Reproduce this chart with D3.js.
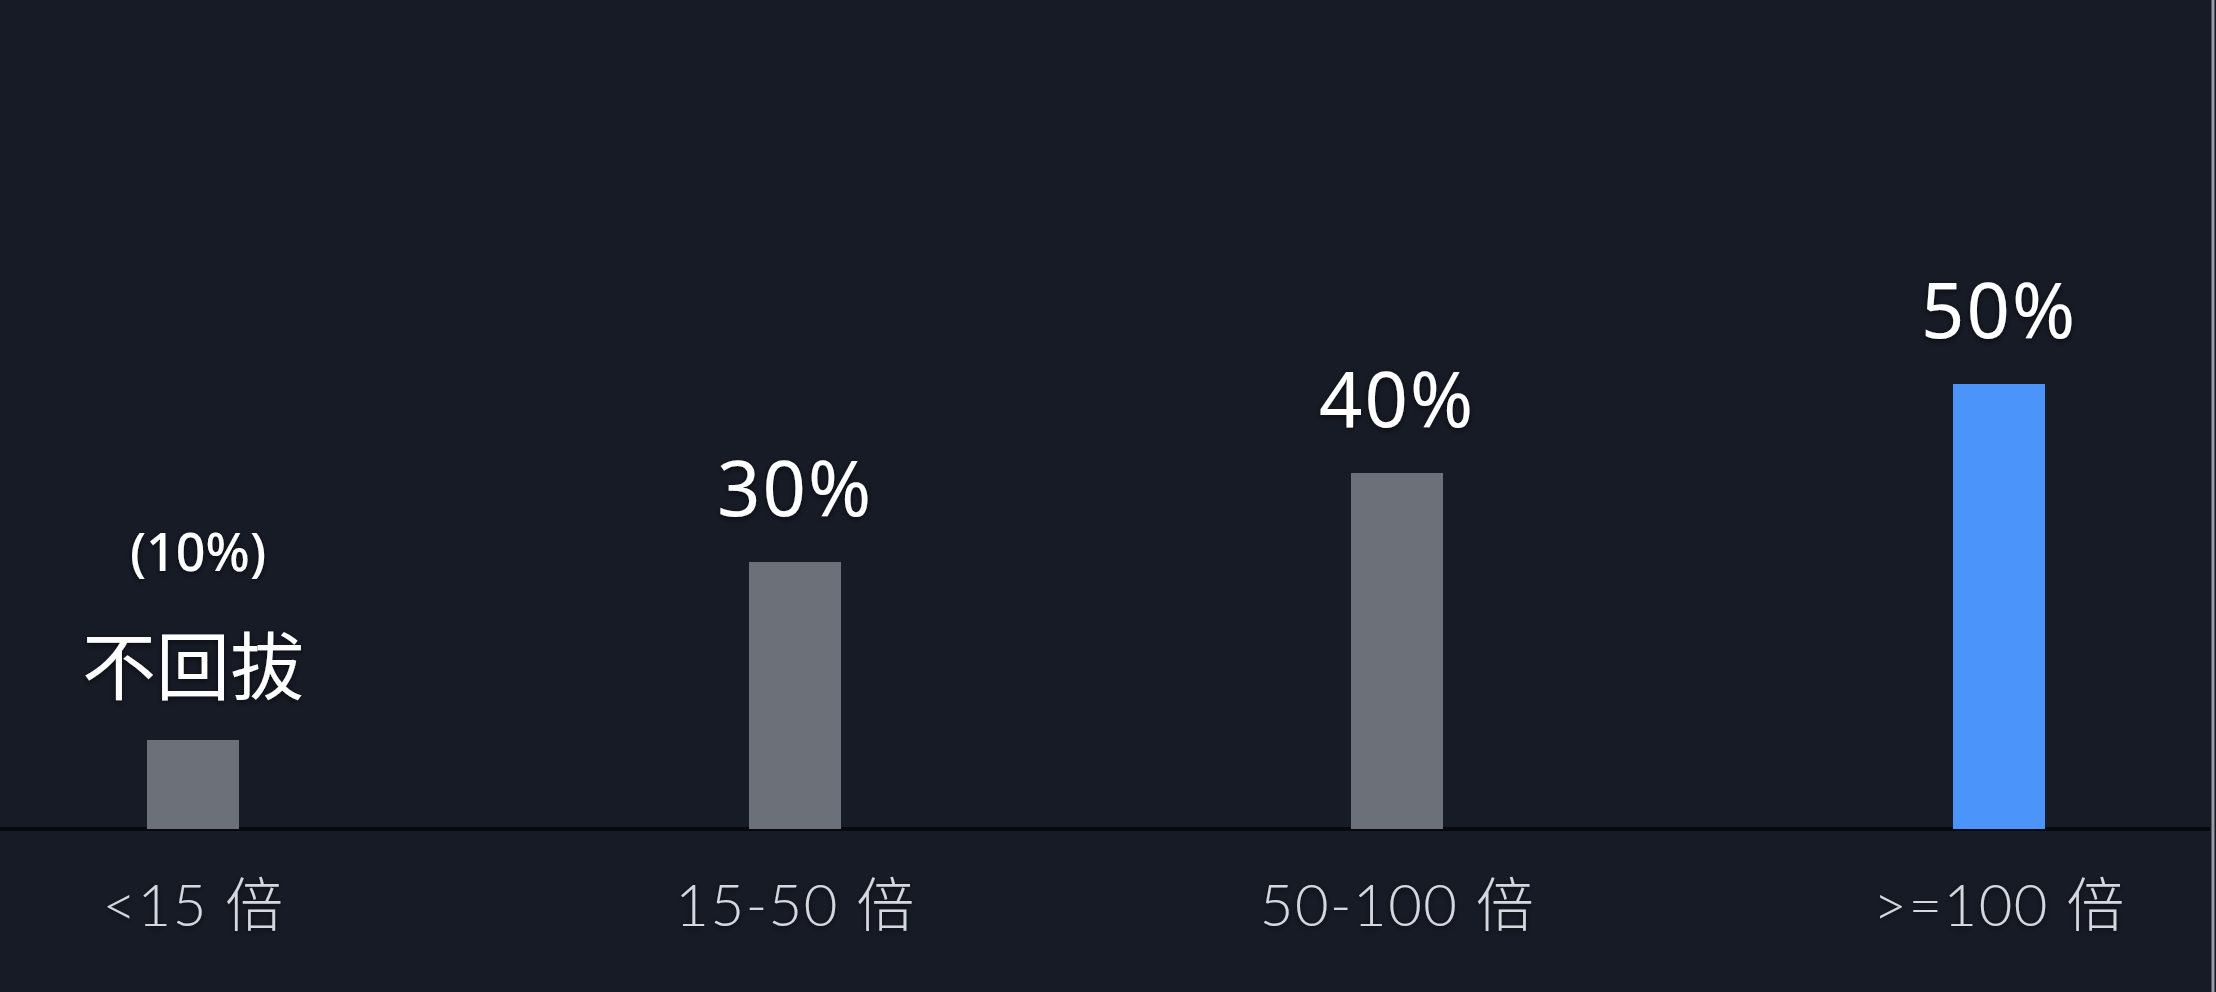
<!DOCTYPE html>
<html>
<head>
<meta charset="utf-8">
<script src="https://cdn.jsdelivr.net/npm/d3@7"></script>
<style>
  html, body { margin: 0; padding: 0; background: #171b26; }
  svg { display: block; }
</style>
</head>
<body>
<script>
// chart data
var categories = ["<15 倍", "15-50 倍", "50-100 倍", ">=100 倍"];
var values = [10, 30, 40, 50];
var valueLabels = ["(10%)", "30%", "40%", "50%"];
var noteLabels = ["不回拔", "", "", ""];
var highlight = [false, false, false, true];

var width = 2216,
    height = 992;

var svg = d3.select("body")
    .append("svg")
    .attr("width", width)
    .attr("height", height);

// background
svg.append("rect")
    .attr("width", width)
    .attr("height", height)
    .attr("fill", "#171b26");

// soft shadow for text
var defs = svg.append("defs");
var glow = defs.append("filter").attr("id", "shadow")
    .attr("x", "-20%").attr("y", "-40%").attr("width", "140%").attr("height", "180%");
glow.append("feDropShadow")
    .attr("dx", 0).attr("dy", 2).attr("stdDeviation", 3)
    .attr("flood-color", "#000").attr("flood-opacity", 0.6);

var baseY = 829;

// scales
var x = d3.scalePoint()
    .domain(categories)
    .range([193, 1999]);

var y = d3.scaleLinear()
    .domain([0, 50])
    .range([baseY, 384]);

var barWidth = 92;

// baseline
svg.append("line")
    .attr("x1", 0)
    .attr("x2", 2210)
    .attr("y1", baseY)
    .attr("y2", baseY)
    .attr("stroke", "#07090d")
    .attr("stroke-width", 4);

// bars
svg.selectAll(".bar")
    .data(values)
    .enter()
    .append("rect")
    .attr("class", "bar")
    .attr("x", function(d, i){ return x(categories[i]) - barWidth / 2; })
    .attr("y", function(d){ return y(d); })
    .attr("width", barWidth)
    .attr("height", function(d){ return baseY - y(d); })
    .attr("fill", function(d, i){ return highlight[i] ? "#4a94fa" : "#6c7079"; });

// value labels
svg.selectAll(".val")
    .data(values)
    .enter()
    .append("text")
    .attr("class", "val")
    .attr("x", function(d, i){ return x(categories[i]) + (i == 0 ? 5 : 0); })
    .attr("y", function(d, i){ return i == 0 ? 571 : y(d) - 46; })
    .attr("text-anchor", "middle")
    .attr("fill", "#ffffff")
    .attr("filter", "url(#shadow)")
    .style("font-family", "'Noto Sans', 'Noto Sans CJK SC', sans-serif")
    .style("font-size", function(d, i){ return i == 0 ? "52px" : "76px"; })
    .style("font-weight", function(d, i){ return i == 0 ? 500 : 400; })
    .style("letter-spacing", function(d, i){ return i == 0 ? "0px" : "2px"; })
    .text(function(d, i){ return valueLabels[i]; });

// note label (不回拔)
svg.selectAll(".note")
    .data(noteLabels.filter(function(d){ return d != ""; }))
    .enter()
    .append("text")
    .attr("class", "note")
    .attr("x", function(d){ return x(categories[noteLabels.indexOf(d)]); })
    .attr("y", 694)
    .attr("text-anchor", "middle")
    .attr("fill", "#ffffff")
    .attr("filter", "url(#shadow)")
    .style("font-family", "'Noto Sans CJK SC', sans-serif")
    .style("font-size", "74px")
    .style("font-weight", 400)
    .text(function(d){ return d; });

// category axis labels
var axis = d3.axisBottom(x).tickSize(0).tickPadding(0);
var axisG = svg.append("g")
    .attr("transform", "translate(0," + 926 + ")")
    .call(axis);
axisG.select(".domain").remove();
axisG.selectAll("text")
    .attr("dy", 0)
    .attr("y", 0)
    .attr("fill", "#d4d7dd")
    .attr("filter", "url(#shadow)")
    .style("font-family", "Lato, 'Noto Sans CJK SC', sans-serif")
    .style("font-size", "58px")
    .style("font-weight", 300)
    .style("letter-spacing", "1.5px");

// right edge line
svg.append("line")
    .attr("x1", 2213).attr("x2", 2213)
    .attr("y1", 0).attr("y2", height)
    .attr("stroke", "#9a9ca2")
    .attr("stroke-width", 3);
</script>
</body>
</html>
